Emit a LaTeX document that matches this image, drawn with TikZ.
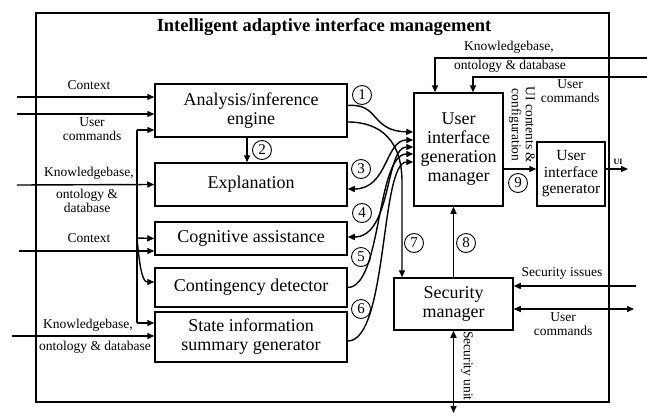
\documentclass[tikz,border=0pt]{standalone}
\usepackage{fontspec}
\setmainfont{Liberation Serif}
\usetikzlibrary{arrows.meta}
\begin{document}
\begin{tikzpicture}[x=1pt,y=-1pt,
  box/.style={draw,line width=1.5pt,inner sep=0pt,align=center,font=\fontsize{18}{19}\selectfont},
  arr/.style={line width=1.4pt,-{Triangle[length=7pt,width=6pt]}},
  darr/.style={line width=1.4pt,{Triangle[length=7pt,width=6pt]}-{Triangle[length=7pt,width=6pt]}},
  plain/.style={line width=1.4pt},
  lbl/.style={font=\fontsize{13.5}{14}\selectfont,inner sep=0pt,align=center},
  num/.style={draw,circle,line width=0.9pt,minimum size=19pt,inner sep=0pt,font=\fontsize{15}{15}\selectfont}]
\useasboundingbox (0,0) rectangle (647,415);

% frame
\node[draw,line width=1.5pt,minimum width=573pt,minimum height=389pt,inner sep=0pt] (frame) at (322.5,207.5) {};
\node[font=\bfseries\fontsize{18.5}{19}\selectfont,inner sep=0pt] (title) at (324,27) {Intelligent adaptive interface management};

% boxes
\node[box,minimum width=192pt,minimum height=53pt] (ana) at (251,110.5) {Analysis/inference\\engine};
\node[box,minimum width=192pt,minimum height=43pt] (expl) at (251,184.5) {Explanation};
\node[box,minimum width=192pt,minimum height=33pt] (cog) at (251,238.5) {Cognitive assistance};
\node[box,minimum width=192pt,minimum height=39pt] (cont) at (251,287.5) {Contingency detector};
\node[box,minimum width=192pt,minimum height=50pt] (state) at (251,337) {State information\\summary generator};
\node[box,minimum width=89pt,minimum height=113pt] (uigm) at (458.5,149.5) {User\\interface\\generation\\manager};
\node[box,minimum width=68pt,minimum height=64pt,font=\fontsize{15.5}{16.5}\selectfont] (uig) at (571,174) {User\\interface\\generator};
\node[box,minimum width=119pt,minimum height=52pt] (sec) at (453.5,304) {Security\\manager};

% free ends
\coordinate (inCtx1) at (17,97);
\coordinate (inUC1) at (17,114);
\coordinate (inKB1) at (17,185);
\coordinate (inCtx2) at (19,251);
\coordinate (inKB2) at (12,336);
\coordinate (busTop) at (137,130);
\coordinate (busCog) at (137,238);
\coordinate (busBot) at (137,323);
\coordinate (inKBtop) at (647,58);
\coordinate (inUCtop) at (647,77);
\coordinate (outUI) at (628,169);
\coordinate (inSecIss) at (636,286);
\coordinate (ioUC) at (634,309);
\coordinate (ioSU) at (453.5,413);

% left inputs
\draw[arr] (inCtx1) -- ([yshift=13.5pt]ana.west);
\draw[arr] (inUC1) -- ([yshift=-3.5pt]ana.west);
\draw[arr] (inKB1) -- (expl.west);
\draw[arr] (inCtx2) -- ([yshift=-12.5pt]cog.west);
\draw[arr] (inKB2) -- ([yshift=1pt]state.west);

% bus
\draw[plain] (busBot) -- (busTop);
\draw[arr] (busTop) -- ([yshift=-19.5pt]ana.west);
\draw[arr] (busCog) -- (cog.west);
\draw[arr] (busBot) -- ([yshift=14pt]state.west);
\draw[arr] (busCog) .. controls (140,272) and (143,282) .. ([yshift=5.5pt]cont.west);

% labels left
\node[lbl] (lCtx1) at (89,85) {Context};
\node[lbl] (lUC1) at (92,129.5) {User\\commands};
\node[lbl] (lKB1) at (89,173) {Knowledgebase,};
\node[lbl] (lKB1b) at (87,201) {ontology \&\\database};
\node[lbl] (lCtx2) at (89,238) {Context};
\node[lbl] (lKB2) at (88,325) {Knowledgebase,};
\node[lbl] (lKB2b) at (95,347) {ontology \& database};

% 2
\draw[arr] ([xshift=-4pt]ana.south) -- ([xshift=-4pt]expl.north);
\node[num] (n2) at (262,150) {2};

% curves to UIGM
\draw[arr] ([yshift=5pt]ana.east) .. controls (380,103) and (370,131) .. ([yshift=17.5pt]uigm.west);
\draw[darr] ([yshift=9.5pt]uigm.west) .. controls (385,140) and (388,189) .. ([yshift=-4.5pt]expl.east);
\draw[darr] ([yshift=2.5pt]uigm.west) .. controls (385,147) and (392,237) .. ([yshift=1.5pt]cog.east);
\draw[arr] (cont.east) .. controls (382,287) and (376,154) .. ([yshift=-4.5pt]uigm.west);
\draw[arr] ([yshift=-4pt]state.east) .. controls (388,341) and (380,162) .. ([yshift=-12.5pt]uigm.west);

% 7
\draw[arr] ([yshift=-11.5pt]ana.east) .. controls (382,122) and (402,142) .. (402,182) -- (sec.north -| 402,0);

% 8
\draw[arr] (sec.north) -- (sec.north |- uigm.south);

\node[num] (n1) at (362,95) {1};
\node[num] (n3) at (361,169) {3};
\node[num] (n4) at (362,213) {4};
\node[num] (n5) at (361,257) {5};
\node[num] (n6) at (361,309) {6};
\node[num] (n7) at (414,243) {7};
\node[num] (n8) at (466,243) {8};

% 9
\draw[arr] ([yshift=-19.5pt]uigm.east) -- ([yshift=5pt]uig.west);
\node[num] (n9) at (518,183) {9};
\node[lbl,rotate=-90] (lUIc) at (522,125) {UI contents \&\\configuration};

% UI out
\draw[arr] ([yshift=5pt]uig.east) -- (outUI);
\node[font=\bfseries\fontsize{8}{8}\selectfont,inner sep=0pt] (lUI) at (618,162) {UI};

% top right inputs
\draw[arr] (inKBtop) -- (inKBtop -| 435,0) -- ([xshift=-23.5pt]uigm.north);
\draw[arr] (inUCtop) -- (inUCtop -| 473,0) -- ([xshift=14.5pt]uigm.north);
\node[lbl] (lKBt) at (509,47) {Knowledgebase,};
\node[lbl] (lKBt2) at (510,66) {ontology \& database};
\node[lbl] (lUCt) at (570,91.5) {User\\commands};

% security manager io
\draw[arr] (inSecIss) -- ([yshift=18pt]sec.east);
\draw[darr] ([yshift=-5pt]sec.east) -- (ioUC);
\draw[darr] (sec.south) -- (ioSU);
\node[lbl] (lSI) at (562,273) {Security issues};
\node[lbl] (lUCb) at (563,324.5) {User\\commands};
\node[lbl,rotate=-90] (lSU) at (467,366) {Security unit};
\end{tikzpicture}
\end{document}
